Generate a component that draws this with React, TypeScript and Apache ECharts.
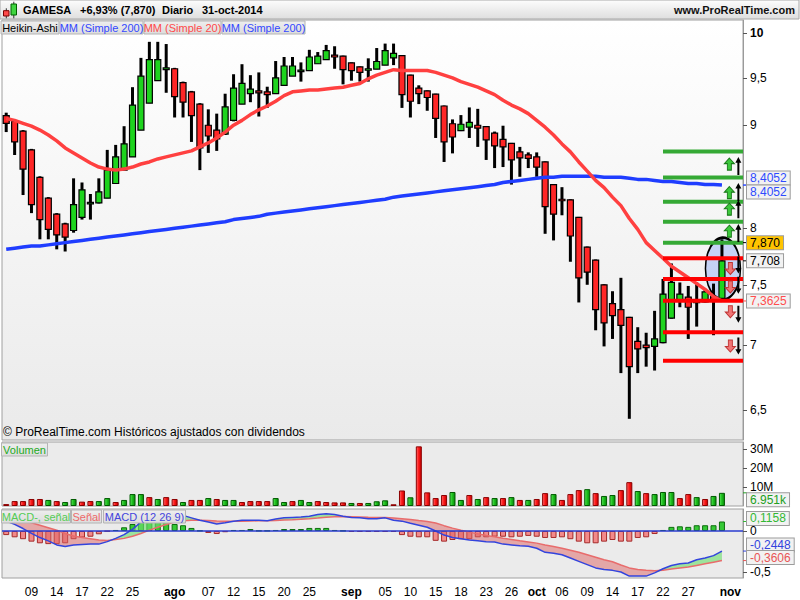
import React, { useEffect, useRef } from 'react';
import * as echarts from 'echarts';

const FONT = "'Liberation Sans', Arial, Helvetica, sans-serif";

// ---------------- DATA ----------------
const dates = [
  '2014-07-04','2014-07-07','2014-07-08','2014-07-09','2014-07-10','2014-07-11',
  '2014-07-14','2014-07-15','2014-07-16','2014-07-17','2014-07-18',
  '2014-07-21','2014-07-22','2014-07-23','2014-07-24','2014-07-25',
  '2014-07-28','2014-07-29','2014-07-30','2014-07-31','2014-08-01',
  '2014-08-04','2014-08-05','2014-08-06','2014-08-07','2014-08-08',
  '2014-08-11','2014-08-12','2014-08-13','2014-08-14','2014-08-15',
  '2014-08-18','2014-08-19','2014-08-20','2014-08-21','2014-08-22',
  '2014-08-25','2014-08-26','2014-08-27','2014-08-28','2014-08-29',
  '2014-09-01','2014-09-02','2014-09-03','2014-09-04','2014-09-05',
  '2014-09-08','2014-09-09','2014-09-10','2014-09-11','2014-09-12',
  '2014-09-15','2014-09-16','2014-09-17','2014-09-18','2014-09-19',
  '2014-09-22','2014-09-23','2014-09-24','2014-09-25','2014-09-26',
  '2014-09-29','2014-09-30','2014-10-01','2014-10-02','2014-10-03',
  '2014-10-06','2014-10-07','2014-10-08','2014-10-09','2014-10-10',
  '2014-10-13','2014-10-14','2014-10-15','2014-10-16','2014-10-17',
  '2014-10-20','2014-10-21','2014-10-22','2014-10-23','2014-10-24',
  '2014-10-27','2014-10-28','2014-10-29','2014-10-30','2014-10-31',
  '2014-11-03','2014-11-04',
];

const xLabelDates = [
  '2014-07-09','2014-07-14','2014-07-17','2014-07-22','2014-07-25','2014-08-01',
  '2014-08-07','2014-08-12','2014-08-15','2014-08-20','2014-08-25','2014-09-01',
  '2014-09-05','2014-09-10','2014-09-15','2014-09-18','2014-09-23','2014-09-26',
  '2014-10-01','2014-10-06','2014-10-09','2014-10-14','2014-10-17','2014-10-22',
  '2014-10-27','2014-11-03',
];
const xLabelText = [
  '09','14','17','22','25','ago','07','12','15','20','25','sep',
  '05','10','15','18','23','26','oct','06','09','14','17','22','27','nov',
];

// Heikin-Ashi candles
const haOpen = [
  9.10, 9.04, 8.94, 8.75, 8.48, 8.28, 8.13, 8.04, 7.98, 8.10,
  8.23, 8.235, 8.28, 8.42, 8.55, 8.68, 8.95, 9.23, 9.47, 9.59,
  9.60, 9.45, 9.35, 9.22, 9.00, 8.95, 8.91, 9.05, 9.22, 9.33,
  9.36, 9.35, 9.33, 9.42, 9.52, 9.575, 9.58, 9.655, 9.70, 9.75,
  9.74, 9.665, 9.62, 9.59, 9.595, 9.64, 9.72, 9.745, 9.53, 9.39,
  9.36, 9.325, 9.20, 9.015, 8.945, 8.98, 9.00, 8.985, 8.92, 8.855,
  8.815, 8.73, 8.70, 8.68, 8.63, 8.41, 8.27, 8.265, 8.10, 7.83,
  7.715, 7.50, 7.34, 7.29, 7.225, 7.03, 7.00, 6.99, 7.02, 7.22,
  7.37, 7.395, 7.35, 7.355, 7.40, 7.385,
];
const haHigh = [
  9.13, 9.05, 8.95, 8.76, 8.49, 8.29, 8.14, 8.05, 8.47, 8.43,
  8.32, 8.47, 8.75, 8.80, 8.99, 9.40, 9.72, 9.90, 9.90, 9.875,
  9.61, 9.46, 9.36, 9.23, 9.165, 9.12, 9.33, 9.54, 9.65, 9.53,
  9.56, 9.405, 9.685, 9.73, 9.73, 9.67, 9.81, 9.785, 9.865, 9.85,
  9.745, 9.67, 9.625, 9.715, 9.83, 9.88, 9.88, 9.75, 9.535, 9.42,
  9.365, 9.33, 9.205, 9.06, 9.105, 9.185, 9.17, 8.99, 8.935, 8.995,
  8.82, 8.78, 8.725, 8.725, 8.635, 8.415, 8.385, 8.27, 8.105, 7.835,
  7.72, 7.505, 7.445, 7.56, 7.23, 7.145, 7.10, 7.28, 7.55, 7.685,
  7.52, 7.49, 7.52, 7.46, 7.51, 7.90,
];
const haLow = [
  8.93, 8.70, 8.31, 8.14, 7.90, 7.90, 7.81, 7.79, 7.96, 8.08,
  8.08, 8.23, 8.28, 8.42, 8.55, 8.68, 8.95, 9.23, 9.47, 9.34,
  9.08, 9.08, 8.83, 8.55, 8.72, 8.74, 8.90, 9.04, 9.22, 9.24,
  9.09, 9.18, 9.33, 9.42, 9.52, 9.46, 9.58, 9.655, 9.70, 9.60,
  9.43, 9.47, 9.46, 9.46, 9.595, 9.64, 9.64, 9.18, 9.08, 9.22,
  9.15, 8.87, 8.63, 8.715, 8.94, 8.87, 8.78, 8.65, 8.57, 8.58,
  8.41, 8.485, 8.57, 8.485, 7.95, 7.89, 8.12, 7.70, 7.35, 7.50,
  7.12, 6.99, 7.05, 6.78, 6.435, 6.78, 6.83, 6.80, 7.015, 7.215,
  7.31, 7.05, 7.15, 7.35, 7.08, 7.385,
];
const haClose = [
  9.02, 8.83, 8.56, 8.22, 8.08, 7.99, 7.94, 7.92, 8.22, 8.36,
  8.24, 8.34, 8.55, 8.68, 8.81, 9.21, 9.52, 9.70, 9.70, 9.61,
  9.30, 9.24, 9.10, 8.77, 8.89, 8.86, 9.19, 9.39, 9.44, 9.38,
  9.34, 9.32, 9.50, 9.63, 9.63, 9.585, 9.73, 9.74, 9.80, 9.73,
  9.59, 9.58, 9.56, 9.60, 9.68, 9.80, 9.77, 9.32, 9.25, 9.33,
  9.29, 9.07, 8.83, 8.88, 9.01, 9.03, 8.97, 8.85, 8.79, 8.78,
  8.65, 8.67, 8.665, 8.58, 8.20, 8.13, 8.26, 7.93, 7.56, 7.61,
  7.29, 7.18, 7.24, 7.16, 6.83, 6.97, 6.98, 7.05, 7.42, 7.52,
  7.42, 7.31, 7.36, 7.44, 7.37, 7.708,
];

const ma20 = [
  9.07, 9.05, 9.02, 8.99, 8.95, 8.90, 8.84, 8.77, 8.72, 8.67,
  8.62, 8.58, 8.56, 8.55, 8.56, 8.58, 8.61, 8.63, 8.66, 8.68,
  8.70, 8.72, 8.74, 8.78, 8.82, 8.87, 8.93, 9.00, 9.05, 9.11,
  9.16, 9.20, 9.25, 9.31, 9.35, 9.36, 9.37, 9.37, 9.38, 9.39,
  9.40, 9.42, 9.44, 9.49, 9.53, 9.56, 9.59, 9.58, 9.58, 9.58,
  9.58, 9.56, 9.53, 9.50, 9.46, 9.43, 9.40, 9.36, 9.32, 9.26,
  9.21, 9.17, 9.12, 9.05, 8.98, 8.90, 8.81, 8.73, 8.63, 8.54,
  8.45, 8.38, 8.29, 8.21, 8.09, 7.99, 7.87, 7.80, 7.73, 7.66,
  7.61, 7.56, 7.51, 7.46, 7.40, 7.3625,
];
const ma200 = [
  7.81, 7.82, 7.83, 7.84, 7.84, 7.85, 7.86, 7.87, 7.88, 7.89,
  7.90, 7.91, 7.92, 7.93, 7.94, 7.95, 7.96, 7.97, 7.98, 7.99,
  8.00, 8.01, 8.02, 8.03, 8.04, 8.05, 8.06, 8.08, 8.09, 8.10,
  8.11, 8.13, 8.14, 8.15, 8.16, 8.17, 8.18, 8.19, 8.20, 8.21,
  8.22, 8.23, 8.24, 8.25, 8.26, 8.27, 8.29, 8.30, 8.31, 8.32,
  8.33, 8.34, 8.35, 8.36, 8.37, 8.38, 8.39, 8.40, 8.41, 8.43,
  8.44, 8.45, 8.46, 8.47, 8.48, 8.48, 8.49, 8.49, 8.49, 8.49,
  8.49, 8.48, 8.48, 8.48, 8.47, 8.46, 8.46, 8.45, 8.44, 8.44,
  8.43, 8.42, 8.42, 8.41, 8.41, 8.4052,
];

// Volume in millions, 1 = green bar, 0 = red bar
const volumeM = [
  1.0, 2.6, 2.6, 3.7, 3.7, 3.2, 2.6, 2.1, 3.7, 2.3,
  2.6, 2.6, 4.2, 2.1, 3.2, 6.3, 6.3, 4.7, 3.7, 4.7,
  3.7, 2.1, 3.2, 3.2, 4.2, 3.7, 3.2, 3.2, 2.1, 2.6,
  2.6, 2.6, 4.2, 2.1, 2.6, 3.2, 2.1, 2.6, 2.1, 1.9,
  1.9, 1.6, 1.6, 1.6, 2.5, 3.0, 0.9, 8.2, 4.6, 31.5,
  7.2, 4.2, 5.8, 7.4, 3.2, 5.8, 3.7, 4.7, 4.2, 4.2,
  4.7, 3.2, 3.2, 3.7, 6.8, 6.3, 3.2, 6.3, 8.4, 8.9,
  6.8, 5.3, 5.8, 8.4, 12.6, 7.9, 6.8, 6.3, 7.4, 7.4,
  4.2, 6.3, 4.7, 3.7, 5.3, 6.951,
];
const volumeUp = [
  0, 0, 0, 0, 0, 1, 0, 1, 1, 0,
  0, 1, 1, 0, 1, 1, 1, 0, 1, 0,
  0, 1, 0, 0, 1, 0, 1, 1, 0, 0,
  0, 0, 1, 1, 0, 1, 1, 0, 0, 0,
  0, 1, 0, 1, 1, 1, 0, 0, 1, 0,
  0, 0, 0, 1, 1, 0, 1, 0, 1, 0,
  1, 0, 1, 0, 0, 1, 0, 0, 0, 1,
  0, 1, 1, 0, 0, 1, 0, 1, 1, 1,
  0, 0, 1, 0, 1, 1,
];

// MACD (12 26 9)
const macdLine = [
  0.12, 0.08, 0.03, -0.03, -0.08, -0.12, -0.17, -0.19, -0.17, -0.165,
  -0.16, -0.16, -0.13, -0.09, -0.045, 0.02, 0.11, 0.16, 0.19, 0.21,
  0.21, 0.19, 0.16, 0.13, 0.11, 0.085, 0.10, 0.12, 0.13, 0.13,
  0.13, 0.125, 0.145, 0.16, 0.165, 0.17, 0.18, 0.20, 0.21, 0.20,
  0.18, 0.165, 0.16, 0.15, 0.15, 0.16, 0.13, 0.12, 0.094, 0.07,
  0.045, 0.0, -0.05, -0.08, -0.095, -0.11, -0.12, -0.13, -0.135, -0.16,
  -0.17, -0.18, -0.185, -0.21, -0.26, -0.27, -0.29, -0.33, -0.37, -0.41,
  -0.45, -0.47, -0.48, -0.50, -0.55, -0.55, -0.55, -0.51, -0.46, -0.42,
  -0.40, -0.39, -0.35, -0.33, -0.30, -0.2448,
];
const signalLine = [
  0.16, 0.15, 0.13, 0.10, 0.07, 0.04, 0.01, -0.03, -0.06, -0.08,
  -0.095, -0.11, -0.115, -0.105, -0.09, -0.065, -0.03, 0.01, 0.045, 0.08,
  0.11, 0.125, 0.13, 0.13, 0.128, 0.122, 0.118, 0.118, 0.12, 0.122,
  0.124, 0.125, 0.128, 0.133, 0.138, 0.144, 0.15, 0.158, 0.168, 0.175,
  0.176, 0.174, 0.172, 0.168, 0.165, 0.164, 0.158, 0.15, 0.14, 0.127,
  0.115, 0.098, 0.065, 0.035, 0.01, -0.014, -0.035, -0.054, -0.07, -0.088,
  -0.104, -0.12, -0.133, -0.148, -0.17, -0.19, -0.21, -0.234, -0.26, -0.29,
  -0.32, -0.35, -0.375, -0.415, -0.45, -0.47, -0.48, -0.485, -0.478, -0.463,
  -0.45, -0.44, -0.42, -0.40, -0.38, -0.3606,
];
const macdHist = [
  -0.05, -0.077, -0.10, -0.13, -0.15, -0.16, -0.16, -0.15, -0.10, -0.08,
  -0.07, -0.04, -0.005, 0.012, 0.045, 0.085, 0.12, 0.14, 0.14, 0.13,
  0.085, 0.07, 0.037, 0.004, -0.024, -0.037, -0.015, 0.012, 0.012, 0.024,
  0.004, 0.004, 0.012, 0.024, 0.024, 0.024, 0.037, 0.037, 0.037, 0.012,
  0.003, -0.012, -0.012, -0.012, -0.012, -0.012, -0.012, -0.05, -0.07, -0.077,
  -0.077, -0.12, -0.13, -0.11, -0.10, -0.10, -0.077, -0.077, -0.07, -0.07,
  -0.077, -0.07, -0.06, -0.07, -0.085, -0.085, -0.077, -0.10, -0.13, -0.15,
  -0.15, -0.13, -0.11, -0.13, -0.13, -0.085, -0.077, -0.037, 0.012, 0.05,
  0.057, 0.05, 0.07, 0.07, 0.07, 0.1158,
];

// axis ticks
const priceTicks = [6.5, 7, 7.5, 8, 9, 9.5, 10];
const volumeTicks = [10, 20, 30];
const macdTicks = [-0.5, 0];

// annotations (support / resistance levels, arrows, ellipse)
const levelStartDate = '2014-10-22';
const greenLevels = [8.735, 8.479, 8.246, 8.06, 7.868];
const redLevels = [7.731, 7.55, 7.364, 7.105, 6.877];
const arrowDate = '2014-11-03';
const upArrowGreen = [8.609, 8.333, 8.177, 7.974];
const upArrowBlack = [8.59, 8.34, 8.177, 7.957];
const downArrowRed = [7.641, 7.481, 7.273, 6.993];
const downArrowBlack = [7.672, 7.496, 7.252, 6.993];
const ellipseDate = '2014-10-31';
const ellipsePrice = 7.64;

// value tags on the right axes
const priceTags = [
  { v: 8.4052, text: '8,4052', color: '#2e4bff', bg: '#f2f2f2', dy: -7 },
  { v: 8.4052, text: '8,4052', color: '#2e4bff', bg: '#f2f2f2', dy: 7 },
  { v: 7.87, text: '7,870', color: '#000000', bg: '#ffc400', dy: 0 },
  { v: 7.708, text: '7,708', color: '#000000', bg: '#f2f2f2', dy: 0 },
  { v: 7.3625, text: '7,3625', color: '#ff4d4d', bg: '#f2f2f2', dy: 0 },
];
const volumeTags = [{ v: 6.951, text: '6.951k', color: '#22a022', bg: '#f2f2f2', dy: 7 }];
const macdTags = [
  { v: 0.1158, text: '0,1158', color: '#33b833', bg: '#f2f2f2', dy: -3 },
  { v: -0.2448, text: '-0,2448', color: '#3344dd', bg: '#f2f2f2', dy: -6 },
  { v: -0.3606, text: '-0,3606', color: '#e85555', bg: '#f2f2f2', dy: -3 },
];

// ---------------- CHART ----------------
const grad = (dir: number[], stops: [number, string][]) =>
  new echarts.graphic.LinearGradient(dir[0], dir[1], dir[2], dir[3], stops.map(([offset, color]) => ({ offset, color })));

function renderCandle(params: any, api: any) {
  const i = api.value(0);
  const o = api.value(1);
  const c = api.value(2);
  const l = api.value(3);
  const h = api.value(4);
  const pO = api.coord([i, o]);
  const pC = api.coord([i, c]);
  const pL = api.coord([i, l]);
  const pH = api.coord([i, h]);
  const x = pO[0];
  const top = Math.min(pO[1], pC[1]);
  const bot = Math.max(pO[1], pC[1]);
  const up = c >= o;
  return {
    type: 'group',
    children: [
      {
        type: 'rect',
        shape: { x: x - 1.5, y: pH[1], width: 3, height: Math.max(pL[1] - pH[1], 1) },
        style: { fill: '#000000' },
      },
      {
        type: 'rect',
        shape: { x: x - 3, y: top, width: 6, height: Math.max(bot - top, 1.5) },
        style: { fill: up ? '#1ed41e' : '#ff2626', stroke: '#000000', lineWidth: 1.2 },
      },
    ],
  };
}

function renderLevel(params: any, api: any) {
  const p = api.coord([api.value(0), api.value(1)]);
  const cs = params.coordSys;
  return {
    type: 'rect',
    shape: { x: p[0], y: p[1] - 2, width: cs.x + cs.width - p[0], height: 4 },
    style: { fill: api.value(2) === 1 ? '#35a935' : '#ff0000' },
  };
}

function buildOption() {
  const labelMap = new Map<string, string>(xLabelDates.map((d, k) => [d, xLabelText[k]]));
  const candleData = haOpen.map((o, i) => [i, o, haClose[i], haLow[i], haHigh[i]]);
  const levelStart = dates.indexOf(levelStartDate);
  const levelData = [
    ...greenLevels.map((p) => [levelStart, p, 1]),
    ...redLevels.map((p) => [levelStart, p, 0]),
  ];
  const arrowX = dates.indexOf(arrowDate);
  const ellipseX = dates.indexOf(ellipseDate);
  const fillBase = macdLine.map((m, i) => Math.min(m, signalLine[i]));
  const fillUp = macdLine.map((m, i) => Math.max(m - signalLine[i], 0));
  const fillDown = macdLine.map((m, i) => Math.max(signalLine[i] - m, 0));

  const redBar = grad([0, 0, 1, 0], [[0, '#ff7070'], [0.45, '#ff1c1c'], [1, '#c40000']]);
  const greenBar = grad([0, 0, 1, 0], [[0, '#62e862'], [0.45, '#1fc21f'], [1, '#0a8a0a']]);

  const xBase: any = {
    type: 'category',
    data: dates,
    boundaryGap: true,
    axisLine: { show: false },
    axisTick: { show: false },
    splitLine: { show: false },
    axisLabel: { show: false },
  };
  const yBase: any = {
    position: 'right',
    axisLine: { show: true, lineStyle: { color: '#9a9a9a' } },
    splitLine: { show: false },
  };
  const gridBase: any = {
    left: 2,
    right: 57,
    show: true,
    borderColor: '#a0a0a0',
    borderWidth: 1,
    containLabel: false,
    outerBoundsMode: 'none',
  };
  const labelStyle = { color: '#000000', fontSize: 12, fontFamily: FONT, margin: 7 };
  const tickStyle = { show: true, length: 4, lineStyle: { color: '#555555' } };

  return {
    animation: false,
    backgroundColor: '#ffffff',
    textStyle: { fontFamily: FONT },
    grid: [
      { ...gridBase, top: 20, height: 420, backgroundColor: grad([0, 0, 0, 1], [[0, '#ffffff'], [1, '#eaeaea']]) },
      { ...gridBase, top: 442, height: 64, backgroundColor: '#ebebeb' },
      { ...gridBase, top: 509, height: 69, backgroundColor: '#ebebeb' },
    ],
    xAxis: [
      { ...xBase, gridIndex: 0 },
      { ...xBase, gridIndex: 1 },
      {
        ...xBase,
        gridIndex: 2,
        axisLabel: {
          show: true,
          hideOverlap: false,
          interval: (_i: number, v: string) => labelMap.has(v),
          formatter: (v: string) => {
            const t = labelMap.get(v) || '';
            return /^[a-z]/.test(t) ? `{m|${t}}` : t;
          },
          color: '#000000',
          fontSize: 12,
          fontFamily: FONT,
          margin: 8,
          rich: { m: { fontWeight: 'bold', fontSize: 12, fontFamily: FONT, color: '#000000' } },
        },
      },
    ],
    yAxis: [
      {
        ...yBase,
        type: 'log',
        logBase: 10,
        gridIndex: 0,
        min: 6.281,
        max: 10.15,
        axisTick: { ...tickStyle, customValues: priceTicks },
        axisLabel: {
          ...labelStyle,
          customValues: priceTicks,
          formatter: (v: number) => (Math.abs(v - 10) < 1e-9 ? '{b|10}' : String(+v.toFixed(2)).replace('.', ',')),
          rich: { b: { fontWeight: 'bold', fontSize: 12, fontFamily: FONT, color: '#000000' } },
        },
      },
      {
        ...yBase,
        type: 'value',
        gridIndex: 1,
        min: 0,
        max: 33.8,
        axisTick: { ...tickStyle, customValues: volumeTicks },
        axisLabel: { ...labelStyle, customValues: volumeTicks, formatter: (v: number) => `${v}M` },
      },
      {
        ...yBase,
        type: 'value',
        gridIndex: 2,
        min: -0.573,
        max: 0.268,
        axisTick: { ...tickStyle, customValues: macdTicks },
        axisLabel: { ...labelStyle, customValues: macdTicks, formatter: (v: number) => String(v).replace('.', ',') },
      },
    ],
    series: [
      {
        type: 'scatter',
        name: 'zona',
        xAxisIndex: 0,
        yAxisIndex: 0,
        z: 1,
        silent: true,
        symbol: 'circle',
        symbolSize: [35, 62],
        symbolOffset: [1, 0],
        data: [[ellipseX, ellipsePrice]],
        itemStyle: { color: 'rgba(188,204,246,0.85)', borderColor: '#000000', borderWidth: 2, opacity: 1 },
      },
      {
        type: 'custom',
        name: 'Heikin-Ashi',
        xAxisIndex: 0,
        yAxisIndex: 0,
        z: 2,
        silent: true,
        renderItem: renderCandle,
        encode: { x: 0, y: [1, 2, 3, 4] },
        data: candleData,
      },
      {
        type: 'line',
        name: 'MM (Simple 200)',
        xAxisIndex: 0,
        yAxisIndex: 0,
        z: 3,
        silent: true,
        symbol: 'none',
        data: ma200,
        lineStyle: { color: '#1f3dff', width: 3.5 },
      },
      {
        type: 'line',
        name: 'MM (Simple 20)',
        xAxisIndex: 0,
        yAxisIndex: 0,
        z: 3,
        silent: true,
        symbol: 'none',
        data: ma20,
        lineStyle: { color: '#ff4040', width: 3.5 },
      },
      {
        type: 'custom',
        name: 'niveles',
        xAxisIndex: 0,
        yAxisIndex: 0,
        z: 4,
        silent: true,
        renderItem: renderLevel,
        encode: { x: 0, y: 1 },
        data: levelData,
      },
      {
        type: 'scatter',
        name: 'up-green',
        xAxisIndex: 0,
        yAxisIndex: 0,
        z: 5,
        silent: true,
        symbol: 'path://M5,0L10,6L7,6L7,13L3,13L3,6L0,6Z',
        symbolSize: [10, 12],
        symbolOffset: [-1, 0],
        data: upArrowGreen.map((p) => [arrowX, p]),
        itemStyle: { color: '#3cc83c', borderColor: '#1a7a1a', borderWidth: 1, opacity: 1 },
      },
      {
        type: 'scatter',
        name: 'up-black',
        xAxisIndex: 0,
        yAxisIndex: 0,
        z: 5,
        silent: true,
        symbol: 'path://M3,0L6,6L4,6L4,19L2,19L2,6L0,6Z',
        symbolSize: [6, 18],
        symbolOffset: [8, 0],
        data: upArrowBlack.map((p) => [arrowX, p]),
        itemStyle: { color: '#000000', opacity: 1 },
      },
      {
        type: 'scatter',
        name: 'down-red',
        xAxisIndex: 0,
        yAxisIndex: 0,
        z: 5,
        silent: true,
        symbol: 'path://M3,0L7,0L7,7L10,7L5,13L0,7L3,7Z',
        symbolSize: [10, 12],
        symbolOffset: [0, 0],
        data: downArrowRed.map((p) => [arrowX, p]),
        itemStyle: { color: '#f07474', borderColor: '#c03535', borderWidth: 1, opacity: 1 },
      },
      {
        type: 'scatter',
        name: 'down-black',
        xAxisIndex: 0,
        yAxisIndex: 0,
        z: 5,
        silent: true,
        symbol: 'path://M2,0L4,0L4,13L6,13L3,19L0,13L2,13Z',
        symbolSize: [6, 17],
        symbolOffset: [8, 0],
        data: downArrowBlack.map((p) => [arrowX, p]),
        itemStyle: { color: '#000000', opacity: 1 },
      },
      {
        type: 'bar',
        name: 'Volumen',
        xAxisIndex: 1,
        yAxisIndex: 1,
        barWidth: 6,
        silent: true,
        data: volumeM.map((v, i) => ({
          value: v,
          itemStyle: {
            color: volumeUp[i] ? greenBar : redBar,
            borderColor: volumeUp[i] ? '#005a00' : '#8b0000',
            borderWidth: 1,
          },
        })),
      },
      {
        type: 'bar',
        name: 'MACD-, señal',
        xAxisIndex: 2,
        yAxisIndex: 2,
        barWidth: 6,
        silent: true,
        data: macdHist.map((v) => ({
          value: v,
          itemStyle: {
            color: v >= 0 ? '#36c936' : '#f28a8a',
            borderColor: v >= 0 ? '#0e6e0e' : '#a52a2a',
            borderWidth: 1,
          },
        })),
        markLine: {
          silent: true,
          symbol: ['none', 'none'],
          data: [{ yAxis: 0 }],
          lineStyle: { color: '#2a3bd0', width: 1.5, type: 'solid' },
          label: { show: false },
        },
      },
      {
        type: 'line',
        name: 'fill-base',
        xAxisIndex: 2,
        yAxisIndex: 2,
        stack: 'macdfill',
        stackStrategy: 'all',
        symbol: 'none',
        silent: true,
        data: fillBase,
        lineStyle: { width: 0, opacity: 0 },
      },
      {
        type: 'line',
        name: 'fill-up',
        xAxisIndex: 2,
        yAxisIndex: 2,
        stack: 'macdfill',
        stackStrategy: 'all',
        symbol: 'none',
        silent: true,
        data: fillUp,
        lineStyle: { width: 0, opacity: 0 },
        areaStyle: { color: 'rgba(110,222,110,0.9)' },
      },
      {
        type: 'line',
        name: 'fill-down',
        xAxisIndex: 2,
        yAxisIndex: 2,
        stack: 'macdfill',
        stackStrategy: 'all',
        symbol: 'none',
        silent: true,
        data: fillDown,
        lineStyle: { width: 0, opacity: 0 },
        areaStyle: { color: 'rgba(222,100,100,0.72)' },
      },
      {
        type: 'line',
        name: 'Señal',
        xAxisIndex: 2,
        yAxisIndex: 2,
        symbol: 'none',
        silent: true,
        data: signalLine,
        lineStyle: { color: '#e86c6c', width: 1.5 },
      },
      {
        type: 'line',
        name: 'MACD (12 26 9)',
        xAxisIndex: 2,
        yAxisIndex: 2,
        symbol: 'none',
        silent: true,
        data: macdLine,
        lineStyle: { color: '#3344dd', width: 1.5 },
      },
    ],
  };
}

function tag(x: number, y: number, w: number, h: number, text: string, color: string) {
  return [
    {
      type: 'rect',
      z: 100,
      silent: true,
      shape: { x, y, width: w, height: h },
      style: { fill: grad([0, 0, 0, 1], [[0, '#eeeeee'], [1, '#dcdcdc']]), stroke: '#b4b4b4', lineWidth: 1 },
    },
    {
      type: 'text',
      z: 101,
      silent: true,
      style: {
        text,
        x: x + w / 2,
        y: y + h / 2 + 0.5,
        align: 'center',
        verticalAlign: 'middle',
        fill: color,
        font: `11px ${FONT}`,
      },
    },
  ];
}

function valueBox(y: number, dy: number, text: string, color: string, bg: string) {
  return [
    {
      type: 'line',
      z: 100,
      silent: true,
      shape: { x1: 743, y1: y, x2: 747, y2: y },
      style: { stroke: color, lineWidth: 1 },
    },
    {
      type: 'text',
      z: 101,
      silent: true,
      style: {
        text,
        x: 747,
        y: y + dy,
        align: 'left',
        verticalAlign: 'middle',
        fill: color,
        font: `12px ${FONT}`,
        backgroundColor: bg,
        borderColor: '#9c9c9c',
        borderWidth: 1,
        padding: [1, 3, 0, 3],
      },
    },
  ];
}

function buildGraphic(chart: any) {
  const toY = (grid: number, v: number) => {
    const p = chart.convertToPixel({ gridIndex: grid }, [0, v]);
    return p[1];
  };
  const els: any[] = [];
  // header bar
  els.push({
    type: 'rect',
    z: 100,
    silent: true,
    shape: { x: 0, y: 0, width: 799, height: 19 },
    style: { fill: grad([0, 0, 0, 1], [[0, '#fdfdfd'], [1, '#dedede']]), stroke: '#a8a8a8', lineWidth: 1 },
  });
  // icon: small red and green candles
  els.push({ type: 'line', z: 101, silent: true, shape: { x1: 6.3, y1: 8.3, x2: 6.3, y2: 18.3 }, style: { stroke: '#333', lineWidth: 1 } });
  els.push({ type: 'rect', z: 102, silent: true, shape: { x: 3.5, y: 10.7, width: 5.5, height: 5.3 }, style: { fill: '#ff4a4a', stroke: '#7a0000', lineWidth: 1 } });
  els.push({ type: 'line', z: 101, silent: true, shape: { x1: 13.8, y1: 1.7, x2: 13.8, y2: 18.3 }, style: { stroke: '#333', lineWidth: 1 } });
  els.push({ type: 'rect', z: 102, silent: true, shape: { x: 11, y: 4, width: 5.5, height: 11 }, style: { fill: '#3fd43f', stroke: '#006000', lineWidth: 1 } });
  const headerParts: [number, string][] = [
    [23, 'GAMESA'],
    [80, '+6,93% (7,870)'],
    [162, 'Diario'],
    [202, '31-oct-2014'],
  ];
  headerParts.forEach(([x, t]) => {
    els.push({
      type: 'text',
      z: 101,
      silent: true,
      style: { text: t, x, y: 10, verticalAlign: 'middle', fill: '#000000', font: `bold 11px ${FONT}` },
    });
  });
  els.push({
    type: 'text',
    z: 101,
    silent: true,
    style: { text: 'www.ProRealTime.com', x: 795, y: 10, align: 'right', verticalAlign: 'middle', fill: '#111111', font: `bold 11px ${FONT}` },
  });
  // legend tags
  els.push(...tag(1, 21, 58, 13, 'Heikin-Ashi', '#000000'));
  els.push(...tag(60, 21, 83, 13, 'MM (Simple 200)', '#3348ff'));
  els.push(...tag(144, 21, 77, 13, 'MM (Simple 20)', '#ff4a4a'));
  els.push(...tag(222, 21, 83, 13, 'MM (Simple 200)', '#3348ff'));
  els.push(...tag(1.5, 443, 46, 13, 'Volumen', '#22aa22'));
  els.push(...tag(1.5, 510, 69, 13, 'MACD-, señal', '#55cc55'));
  els.push(...tag(71.5, 510, 30, 13, 'Señal', '#ee6a6a'));
  els.push(...tag(103.5, 510, 82, 13, 'MACD (12 26 9)', '#4444dd'));
  // copyright line
  els.push({
    type: 'text',
    z: 101,
    silent: true,
    style: {
      text: '© ProRealTime.com Históricos ajustados con dividendos',
      x: 3,
      y: 432,
      verticalAlign: 'middle',
      fill: '#000000',
      font: `12px ${FONT}`,
    },
  });
  // value boxes
  priceTags.forEach((t) => els.push(...valueBox(toY(0, t.v), t.dy, t.text, t.color, t.bg)));
  volumeTags.forEach((t) => els.push(...valueBox(toY(1, t.v), t.dy, t.text, t.color, t.bg)));
  macdTags.forEach((t) => els.push(...valueBox(toY(2, t.v), t.dy, t.text, t.color, t.bg)));
  return els;
}

export default function App() {
  const ref = useRef<HTMLDivElement>(null);
  useEffect(() => {
    if (!ref.current) return;
    const chart = echarts.init(ref.current, null, { renderer: 'svg' });
    chart.setOption(buildOption() as any);
    chart.setOption({ graphic: { elements: buildGraphic(chart) } } as any);
    return () => chart.dispose();
  }, []);
  return (
    <div
      ref={ref}
      style={{ position: 'absolute', left: 0, top: 0, width: 800, height: 600, background: '#ffffff' }}
    />
  );
}
